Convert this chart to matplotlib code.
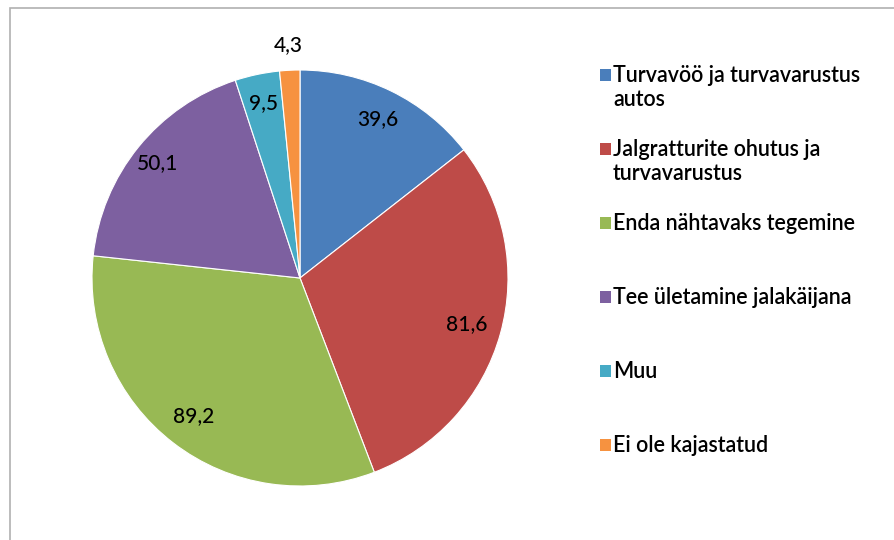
import matplotlib
matplotlib.use("Agg")
import matplotlib.pyplot as plt
import matplotlib.patches as patches
import numpy as np

categories = [
    "Turvavöö ja turvavarustus\nautos",
    "Jalgratturite ohutus ja\nturvavarustus",
    "Enda nähtavaks tegemine",
    "Tee ületamine jalakäijana",
    "Muu",
    "Ei ole kajastatud",
]
values = [39.6, 81.6, 89.2, 50.1, 9.5, 4.3]
value_labels = ["39,6", "81,6", "89,2", "50,1", "9,5", "4,3"]
colors = ["#4A7EBB", "#BE4B48", "#98B954", "#7D60A0", "#46AAC5", "#F69240"]

plt.rcParams['font.family'] = ['Lato', 'DejaVu Sans']

W, H = 895, 540
fig = plt.figure(figsize=(W / 100, H / 100), dpi=100)

# grey chart-area frame
fig.add_artist(patches.Rectangle((10 / W, -0.02), 1.0, (H - 8) / H + 0.02,
                                 transform=fig.transFigure, fill=False,
                                 edgecolor="#B0B0B0", linewidth=1.2))

# pie: centre (300, 278) px, radius 208 px
cx, cy, r = 300, 278, 208
ax = fig.add_axes([(cx - r) / W, (H - cy - r) / H, 2 * r / W, 2 * r / H])
wedges, _ = ax.pie(values, colors=colors, startangle=90, counterclock=False,
                   wedgeprops=dict(edgecolor="white", linewidth=0.8))
ax.set_xlim(-1, 1)
ax.set_ylim(-1, 1)
ax.axis("off")

# data labels
dists = [0.85, 0.83, 0.84, 0.88, 0.86, 1.12]
for w, lab, d in zip(wedges, value_labels, dists):
    ang = np.deg2rad((w.theta1 + w.theta2) / 2)
    ax.text(d * np.cos(ang), d * np.sin(ang), lab, ha="center", va="center",
            fontsize=15, color="black", fontweight="medium")

# legend drawn by hand to follow the Excel layout
y0 = 75
step = 74
for i, (lab, col) in enumerate(zip(categories, colors)):
    y = y0 + i * step
    fig.add_artist(patches.Rectangle((600 / W, (H - y - 6) / H), 11 / W, 12 / H,
                                     transform=fig.transFigure, facecolor=col,
                                     edgecolor="none"))
    for j, line in enumerate(lab.split("\n")):
        fig.text(613 / W, (H - y - j * 25) / H, line, ha="left", va="center",
                 fontsize=15.5, color="black", fontweight="semibold")

fig.savefig("out.png", dpi=100)
